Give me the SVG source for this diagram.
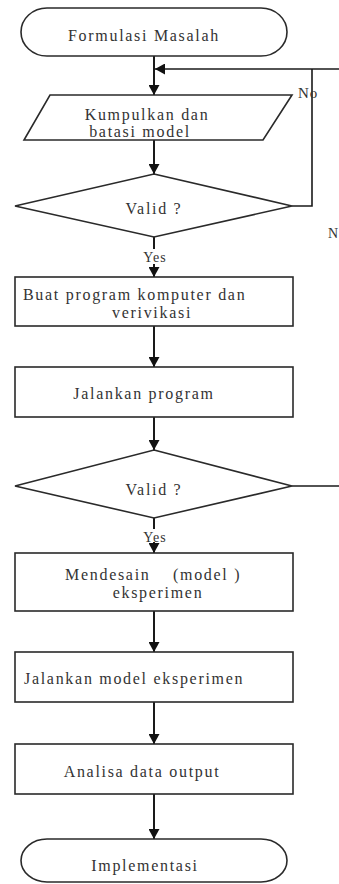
<svg xmlns="http://www.w3.org/2000/svg" width="339" height="884" viewBox="0 0 339 884">
<style>
.s{fill:#fff;stroke:#2a2a2a;stroke-width:1.6}
.c{fill:none;stroke:#1a1a1a;stroke-width:2}
.th{stroke-width:1.6}
.t{font-family:"Liberation Serif","Times New Roman",serif;font-size:16px;fill:#333;letter-spacing:1.7px}
.m{text-anchor:middle}
.l{font-family:"Liberation Serif","Times New Roman",serif;font-size:14px;fill:#333;letter-spacing:1px}
</style>
<defs>
<marker id="ah" markerUnits="userSpaceOnUse" markerWidth="11" markerHeight="11" refX="10" refY="5.5" orient="auto">
<path d="M0,0 L10,5.5 L0,11 Z" fill="#111"/>
</marker>
</defs>
<rect width="339" height="884" fill="#fff"/>
<g id="connectors">
<path class="c" d="M154,56 V95" marker-end="url(#ah)"/>
<path class="c th" d="M339,69 H155" marker-end="url(#ah)"/>
<path class="c th" d="M292,206 H312 V69"/>
<path class="c" d="M154,140 V174" marker-end="url(#ah)"/>
<path class="c" d="M154,237 V249"/>
<path class="c" d="M154,264 V277" marker-end="url(#ah)"/>
<path class="c" d="M154,326 V367" marker-end="url(#ah)"/>
<path class="c" d="M154,417 V450" marker-end="url(#ah)"/>
<path class="c th" d="M292,486 H339"/>
<path class="c" d="M154,518 V529"/>
<path class="c" d="M154,542 V553" marker-end="url(#ah)"/>
<path class="c" d="M154,611 V652" marker-end="url(#ah)"/>
<path class="c" d="M154,702 V744" marker-end="url(#ah)"/>
<path class="c" d="M154,794 V839" marker-end="url(#ah)"/>
<text class="l" x="298" y="98" style="font-size:15px">No</text>
<text class="l" x="328" y="238">N</text>
<text class="l m" x="155" y="262">Yes</text>
<text class="l m" x="155" y="542">Yes</text>
</g>
<g id="start">
<rect class="s" x="21" y="8" width="266" height="48" rx="26" ry="24"/>
<text class="t m" x="144" y="41">Formulasi Masalah</text>
</g>
<g id="kumpulkan">
<polygon class="s" points="50,95 292,95 263,140 24,140"/>
<text class="t m" x="147" y="120">Kumpulkan dan</text>
<text class="t m" x="140" y="137">batasi model</text>
</g>
<g id="valid1">
<polygon class="s" points="154,174 292,206 154,237 15,206"/>
<text class="t m" x="154" y="214">Valid ?</text>
</g>
<g id="buat">
<rect class="s" x="15" y="277" width="278" height="49"/>
<text class="t" x="23" y="300">Buat program komputer dan</text>
<text class="t m" x="152" y="318">verivikasi</text>
</g>
<g id="jalankan">
<rect class="s" x="15" y="367" width="278" height="50"/>
<text class="t m" x="144" y="399">Jalankan program</text>
</g>
<g id="valid2">
<polygon class="s" points="154,450 292,486 154,518 15,486"/>
<text class="t m" x="154" y="495">Valid ?</text>
</g>
<g id="mendesain">
<rect class="s" x="15" y="553" width="278" height="58"/>
<text class="t" x="65" y="580">Mendesain</text>
<text class="t" x="173" y="580">(model )</text>
<text class="t m" x="158" y="598">eksperimen</text>
</g>
<g id="jalankan-model">
<rect class="s" x="15" y="652" width="278" height="50"/>
<text class="t" x="24" y="684">Jalankan model eksperimen</text>
</g>
<g id="analisa">
<rect class="s" x="15" y="744" width="278" height="50"/>
<text class="t m" x="142" y="777">Analisa data output</text>
</g>
<g id="end">
<rect class="s" x="21" y="839" width="266" height="43" rx="26" ry="21.5"/>
<text class="t m" x="145" y="871">Implementasi</text>
</g>
</svg>
